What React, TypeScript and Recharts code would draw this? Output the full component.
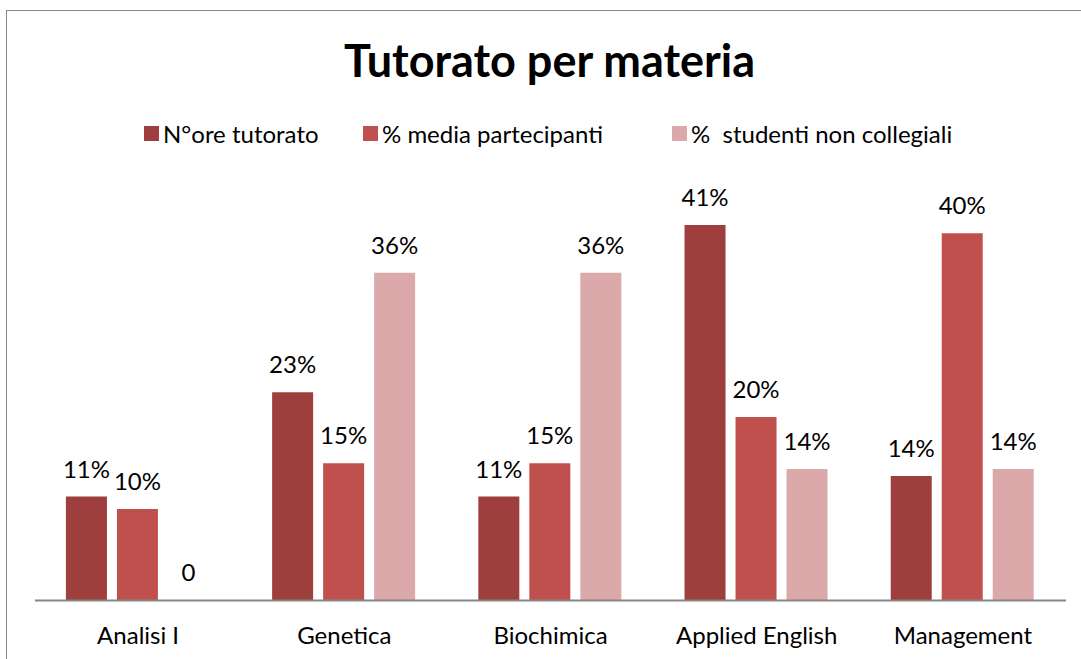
import React from "react";
import { BarChart, Bar, XAxis, YAxis, LabelList } from "recharts";

const categories = ["Analisi I", "Genetica", "Biochimica", "Applied English", "Management"];
const oreTutorato = [0.1135, 0.2275, 0.1135, 0.41, 0.136];
const mediaPartecipanti = [0.1, 0.15, 0.15, 0.2005, 0.401];
const studentiNonCollegiali = [0, 0.358, 0.358, 0.1435, 0.1435];
const seriesNames = ["N°ore tutorato", "% media partecipanti", "%  studenti non collegiali"];
const seriesColors = ["#9E3F3E", "#C0504D", "#DBA9A9"];
const legendX = [144, 363, 672];

const data = categories.map((c, i) => ({
  name: c,
  s1: oreTutorato[i],
  s2: mediaPartecipanti[i],
  s3: studentiNonCollegiali[i],
}));

const FONT = "Lato, 'Open Sans', sans-serif";

const fmt = (v: any) => (Number(v) === 0 ? "0" : Math.round(Number(v) * 100) + "%");

const renderLabel = (props: any) => {
  const { x, y, width, height, value } = props;
  const top = Math.min(Number(y), Number(y) + Number(height));
  return (
    <text
      x={Number(x) + Number(width) / 2}
      y={top - 19}
      textAnchor="middle"
      fontFamily={FONT}
      fontSize={24}
      fill="#000"
    >
      {fmt(value)}
    </text>
  );
};

const LegendBox = () => (
  <>
    {seriesNames.map((n, i) => (
      <div
        key={n}
        style={{
          position: "absolute",
          left: legendX[i],
          top: 119,
          display: "flex",
          alignItems: "center",
          fontFamily: FONT,
          fontSize: 24,
          color: "#000",
          whiteSpace: "pre",
        }}
      >
        <span style={{ display: "inline-block", width: 15, height: 15, background: seriesColors[i], marginRight: 4 }} />
        <span style={{ whiteSpace: "pre" }}>{n}</span>
      </div>
    ))}
  </>
);

export default function App() {
  return (
    <div style={{ position: "absolute", left: 0, top: 0, width: 1081, height: 659, background: "#fff", overflow: "hidden" }}>
      <div style={{ position: "absolute", left: 6, top: 10, width: 1100, height: 700, border: "1.5px solid #898989", boxSizing: "border-box" }} />
      <div style={{ position: "absolute", left: 0, top: 33, width: 1099, textAlign: "center", fontFamily: FONT, fontWeight: 700, fontSize: 45, color: "#000", whiteSpace: "nowrap" }}>
        Tutorato per materia
      </div>
      <LegendBox />
      <div style={{ position: "absolute", left: 0, top: 0 }}>
        <BarChart
          width={1081}
          height={659}
          data={data}
          margin={{ top: 188.5, right: 15, bottom: 8.5, left: 35 }}
          barCategoryGap="15%"
          barGap={10}
        >
          <XAxis
            dataKey="name"
            axisLine={{ stroke: "#868686", strokeWidth: 2 }}
            tickLine={false}
            height={50}
            tick={{ fontFamily: FONT, fontSize: 24, fill: "#000" }}
            tickMargin={20}
          />
          <YAxis hide domain={[0, 0.45]} />
          <Bar dataKey="s1" name={seriesNames[0]} fill={seriesColors[0]} isAnimationActive={false}>
            <LabelList dataKey="s1" content={renderLabel} />
          </Bar>
          <Bar dataKey="s2" name={seriesNames[1]} fill={seriesColors[1]} isAnimationActive={false}>
            <LabelList dataKey="s2" content={renderLabel} />
          </Bar>
          <Bar dataKey="s3" name={seriesNames[2]} fill={seriesColors[2]} minPointSize={0.01} isAnimationActive={false}>
            <LabelList dataKey="s3" content={renderLabel} />
          </Bar>
        </BarChart>
      </div>
    </div>
  );
}
